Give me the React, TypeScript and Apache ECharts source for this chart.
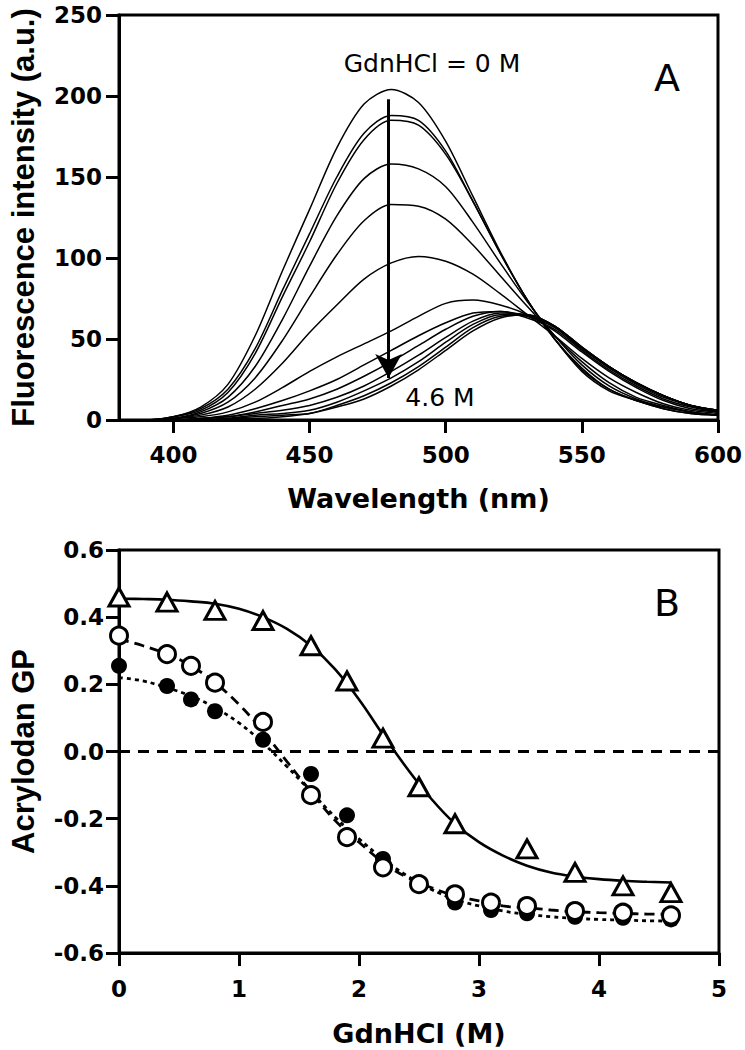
import React, { useEffect, useRef } from "react";
import * as echarts from "echarts";

// ---------- Panel A data ----------
const wavelengths = [380, 390, 400, 410, 420, 430, 440, 450, 460, 470, 480, 490, 500, 510, 520, 530, 540, 550, 560, 570, 580, 590, 600];
const wavelengthTicks = [400, 450, 500, 550, 600];
const spec0 = [0, 0, 2, 8, 22, 52, 92, 130, 168, 195, 204, 196, 172, 138, 104, 74, 50, 30, 18, 12, 7, 4, 3];
const spec1 = [0, 0, 2, 7, 19, 44, 80, 115, 150, 177, 188, 185, 166, 135, 103, 74, 50, 31, 19, 12, 7, 4, 3];
const spec2 = [0, 0, 2, 6, 17, 41, 76, 110, 146, 173, 185, 182, 164, 135, 103, 74, 50, 32, 19, 12, 8, 5, 3];
const spec3 = [0, 0, 1, 5, 14, 33, 62, 95, 126, 149, 158, 155, 144, 122, 97, 73, 52, 34, 21, 13, 8, 5, 3];
const spec4 = [0, 0, 1, 4, 11, 26, 49, 76, 102, 123, 133, 132, 124, 108, 89, 70, 52, 36, 23, 14, 9, 5, 3];
const spec5 = [0, 0, 1, 3, 8, 19, 35, 54, 71, 87, 97, 101, 98, 90, 78, 65, 52, 38, 26, 17, 10, 6, 4];
const spec6 = [0, 0, 1, 2, 5, 11, 20, 30, 39, 47, 55, 64, 72, 74, 71, 65, 55, 42, 30, 20, 12, 7, 5];
const spec7 = [0, 0, 0, 1, 3, 7, 12, 18, 25, 34, 43, 52, 60, 66, 67, 63, 56, 43, 31, 21, 13, 8, 5];
const spec8 = [0, 0, 0, 1, 2, 5, 9, 13, 19, 27, 36, 46, 56, 64, 67, 64, 57, 44, 32, 22, 14, 9, 5];
const spec9 = [0, 0, 0, 1, 2, 4, 6, 9, 14, 21, 30, 40, 51, 61, 66, 65, 58, 44, 33, 23, 15, 9, 6];
const spec10 = [0, 0, 0, 0, 1, 3, 4, 6, 11, 18, 26, 36, 48, 59, 65, 64, 58, 45, 33, 23, 15, 9, 6];
const spec11 = [0, 0, 0, 0, 1, 2, 3, 4, 9, 15, 23, 33, 45, 57, 64, 65, 58, 45, 33, 23, 15, 9, 6];
const spec12 = [0, 0, 0, 0, 1, 1, 2, 4, 8, 13, 21, 31, 43, 55, 63, 65, 58, 45, 33, 23, 15, 9, 6];
const spectra = [spec0, spec1, spec2, spec3, spec4, spec5, spec6, spec7, spec8, spec9, spec10, spec11, spec12];
const arrowX = [479, 479];
const arrowY = [198, 26];

// ---------- Panel B data ----------
const triConc = [0, 0.4, 0.8, 1.2, 1.6, 1.9, 2.2, 2.5, 2.8, 3.4, 3.8, 4.2, 4.6];
const triGP = [0.46, 0.445, 0.42, 0.39, 0.315, 0.21, 0.04, -0.105, -0.215, -0.29, -0.36, -0.4, -0.42];
const circConc = [0, 0.4, 0.6, 0.8, 1.2, 1.6, 1.9, 2.2, 2.5, 2.8, 3.1, 3.4, 3.8, 4.2, 4.6];
const openGP = [0.345, 0.29, 0.255, 0.205, 0.088, -0.13, -0.255, -0.345, -0.395, -0.425, -0.45, -0.46, -0.475, -0.48, -0.488];
const filledGP = [0.255, 0.195, 0.155, 0.12, 0.035, -0.067, -0.19, -0.32, -0.395, -0.45, -0.472, -0.482, -0.492, -0.495, -0.5];
const fitConc = [0, 0.2, 0.4, 0.6, 0.8, 1.0, 1.2, 1.4, 1.6, 1.8, 2.0, 2.2, 2.4, 2.6, 2.8, 3.0, 3.2, 3.4, 3.6, 3.8, 4.0, 4.2, 4.4, 4.6];
const triFit = [0.455, 0.454, 0.452, 0.447, 0.44, 0.425, 0.4, 0.365, 0.315, 0.245, 0.155, 0.05, -0.05, -0.14, -0.215, -0.27, -0.31, -0.34, -0.36, -0.372, -0.38, -0.385, -0.388, -0.39];
const openFit = [0.335, 0.315, 0.29, 0.255, 0.205, 0.14, 0.06, -0.03, -0.12, -0.205, -0.27, -0.33, -0.375, -0.405, -0.43, -0.445, -0.46, -0.465, -0.472, -0.477, -0.48, -0.482, -0.484, -0.485];
const filledFit = [0.22, 0.21, 0.19, 0.165, 0.13, 0.085, 0.025, -0.045, -0.12, -0.195, -0.26, -0.32, -0.37, -0.41, -0.44, -0.46, -0.475, -0.485, -0.492, -0.497, -0.5, -0.502, -0.504, -0.505];
const zeroLineX = [0, 5];
const zeroLineY = [0, 0];

const TICK_FONT = "DejaVu Sans";
const TITLE_FONT = "DejaVu Sans";
const YTITLE_FONT = "Liberation Sans";

export default function App() {
  const ref = useRef<HTMLDivElement>(null);
  useEffect(() => {
    document.body.style.margin = "0";
    if (!ref.current) return;
    const chart = echarts.init(ref.current, null, { renderer: "svg" });
    const axisLine = { show: true, onZero: false, lineStyle: { color: "#000", width: 3 } };
    const axisTick = { show: true, inside: false, length: 13, lineStyle: { color: "#000", width: 3 } };
    const tickLabel = { color: "#000", fontFamily: TICK_FONT, fontWeight: "bold" as const, fontSize: 23 };

    const zip = (xs: number[], ys: number[]) => xs.map((x, i) => [x, ys[i]]);

    const spectraSeries = spectra.map((s) => ({
      type: "line",
      xAxisIndex: 0,
      yAxisIndex: 0,
      data: zip(wavelengths, s),
      smooth: 0.3,
      symbol: "none",
      silent: true,
      lineStyle: { color: "#000", width: 1.5 },
      z: 2,
    }));

    const option: any = {
      animation: false,
      backgroundColor: "#fff",
      grid: [
        { left: 115, top: 15, width: 606, height: 405, show: true, borderColor: "#000", borderWidth: 3, backgroundColor: "transparent" },
        { left: 112, top: 550, width: 607, height: 403, show: true, borderColor: "#000", borderWidth: 3, backgroundColor: "transparent" },
      ],
      xAxis: [
        {
          gridIndex: 0,
          type: "value",
          min: 380,
          max: 600,
          splitLine: { show: false },
          axisLine,
          axisTick: { ...axisTick, customValues: wavelengthTicks },
          axisLabel: { ...tickLabel, margin: 23, customValues: wavelengthTicks },
          name: "Wavelength (nm)",
          nameLocation: "middle",
          nameGap: 65,
          nameTextStyle: { color: "#000", fontFamily: TITLE_FONT, fontWeight: "bold", fontSize: 27 },
        },
        {
          gridIndex: 1,
          type: "value",
          min: 0,
          max: 5,
          interval: 1,
          splitLine: { show: false },
          axisLine,
          axisTick,
          axisLabel: { ...tickLabel, margin: 24 },
          name: "GdnHCl (M)",
          nameLocation: "middle",
          nameGap: 67,
          nameTextStyle: { color: "#000", fontFamily: TITLE_FONT, fontWeight: "bold", fontSize: 27 },
        },
      ],
      yAxis: [
        {
          gridIndex: 0,
          type: "value",
          min: 0,
          max: 250,
          interval: 50,
          splitLine: { show: false },
          axisLine,
          axisTick,
          axisLabel: { ...tickLabel, margin: 17 },
          name: "Fluorescence intensity (a.u.)",
          nameLocation: "middle",
          nameGap: 80,
          nameTextStyle: { color: "#000", fontFamily: YTITLE_FONT, fontWeight: "bold", fontSize: 31 },
        },
        {
          gridIndex: 1,
          type: "value",
          min: -0.6,
          max: 0.6,
          interval: 0.2,
          splitLine: { show: false },
          axisLine,
          axisTick,
          axisLabel: { ...tickLabel, margin: 15, formatter: (v: number) => (Math.abs(v) < 1e-9 ? "0.0" : v.toFixed(1)) },
          name: "Acrylodan GP",
          nameLocation: "middle",
          nameGap: 80,
          nameTextStyle: { color: "#000", fontFamily: YTITLE_FONT, fontWeight: "bold", fontSize: 31 },
        },
      ],
      series: [
        ...spectraSeries,
        {
          type: "line",
          xAxisIndex: 0,
          yAxisIndex: 0,
          data: [],
          symbol: "none",
          markLine: {
            silent: true,
            symbol: ["none", "arrow"],
            symbolSize: [20, 24],
            label: { show: false },
            lineStyle: { color: "#000", width: 3, type: "solid" },
            data: [[{ coord: [arrowX[0], arrowY[0]] }, { coord: [arrowX[1], arrowY[1]] }]],
          },
          z: 4,
        },
        {
          type: "line",
          xAxisIndex: 1,
          yAxisIndex: 1,
          data: zip(zeroLineX, zeroLineY),
          symbol: "none",
          silent: true,
          lineStyle: { color: "#000", width: 3, type: [11, 8] },
          z: 2,
        },
        {
          type: "line",
          xAxisIndex: 1,
          yAxisIndex: 1,
          data: zip(fitConc, triFit),
          smooth: 0.4,
          symbol: "none",
          silent: true,
          lineStyle: { color: "#000", width: 2.6, type: "solid" },
          z: 2,
        },
        {
          type: "line",
          xAxisIndex: 1,
          yAxisIndex: 1,
          data: zip(fitConc, openFit),
          smooth: 0.4,
          symbol: "none",
          silent: true,
          lineStyle: { color: "#000", width: 2.8, type: [10, 6] },
          z: 2,
        },
        {
          type: "line",
          xAxisIndex: 1,
          yAxisIndex: 1,
          data: zip(fitConc, filledFit),
          smooth: 0.4,
          symbol: "none",
          silent: true,
          lineStyle: { color: "#000", width: 2.8, type: [4, 4] },
          z: 2,
        },
        {
          type: "scatter",
          xAxisIndex: 1,
          yAxisIndex: 1,
          data: zip(circConc, filledGP),
          symbol: "circle",
          symbolSize: 16,
          itemStyle: { color: "#000", opacity: 1 },
          z: 3,
        },
        {
          type: "scatter",
          xAxisIndex: 1,
          yAxisIndex: 1,
          data: zip(circConc, openGP),
          symbol: "circle",
          symbolSize: 17,
          itemStyle: { color: "#fff", borderColor: "#000", borderWidth: 3, opacity: 1 },
          z: 4,
        },
        {
          type: "scatter",
          xAxisIndex: 1,
          yAxisIndex: 1,
          data: zip(triConc, triGP),
          symbol: "triangle",
          symbolSize: [20, 18],
          itemStyle: { color: "#fff", borderColor: "#000", borderWidth: 3, opacity: 1 },
          z: 5,
        },
      ],
      graphic: [
        { type: "text", x: 432, y: 63, z: 10, style: { text: "GdnHCl = 0 M", fill: "#000", fontFamily: "DejaVu Sans", fontSize: 25, align: "center", verticalAlign: "middle" } },
        { type: "text", x: 440, y: 397, z: 10, style: { text: "4.6 M", fill: "#000", fontFamily: "DejaVu Sans", fontSize: 25, align: "center", verticalAlign: "middle" } },
        { type: "text", x: 667, y: 78, z: 10, style: { text: "A", fill: "#000", fontFamily: "DejaVu Sans", fontSize: 38, align: "center", verticalAlign: "middle" } },
        { type: "text", x: 667, y: 603, z: 10, style: { text: "B", fill: "#000", fontFamily: "DejaVu Sans", fontSize: 38, align: "center", verticalAlign: "middle" } },
      ],
    };
    chart.setOption(option);
    return () => chart.dispose();
  }, []);
  return <div ref={ref} style={{ width: 745, height: 1050 }} />;
}
